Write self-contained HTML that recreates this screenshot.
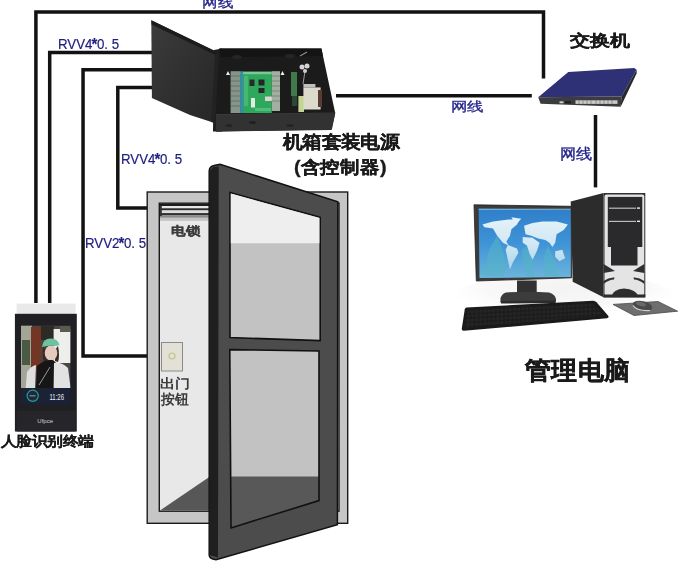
<!DOCTYPE html>
<html><head><meta charset="utf-8">
<style>
html,body{margin:0;padding:0;background:#fff;width:693px;height:569px;overflow:hidden;}
body{position:relative;font-family:"Liberation Sans",sans-serif;}
svg{position:absolute;left:0;top:0;}
.t{position:absolute;white-space:nowrap;line-height:1;}
.blue{color:#20207e;font-size:15px;-webkit-text-stroke:0.2px #25258a;}
.ast{font-weight:bold;font-size:17px;line-height:0;vertical-align:-1px;letter-spacing:-0.6px;margin-left:-1px;}
.rv{transform:scaleX(0.885);transform-origin:0 0;}
.bk{color:#1a1a1a;font-weight:bold;}
</style></head>
<body>
<svg width="693" height="569" viewBox="0 0 693 569">
  <!-- wires -->
  <g fill="none" stroke="#121212" stroke-width="3.5" stroke-linejoin="miter">
    <path d="M35.9 303 V11.95 H543.5 V78.4"/>
    <path d="M49.7 303 V52.6 H153"/>
    <path d="M147 356 H83.05 V69.75 H153"/>
    <path d="M147 208.1 H117.8 V87.5 H153"/>
    <path d="M336 95.8 H531.8"/>
    <path d="M595.5 115 V187.4"/>
  </g>

  <!-- BOX lid -->
  <defs>
    <linearGradient id="lidg" x1="0" y1="0" x2="1" y2="1">
      <stop offset="0" stop-color="#3c3c3c"/><stop offset="0.5" stop-color="#303030"/><stop offset="1" stop-color="#262626"/>
    </linearGradient>
  </defs>
  <polygon points="214,50 222,48.4 222,131.5 213,131.5" fill="#1e1e1e"/>
  <polygon points="151.3,20.2 219,53.1 214.6,123 190,115 151.9,98" fill="url(#lidg)"/>
  <polygon points="151.3,20.2 219,53.1 218.5,56.5 151.5,24.5" fill="#1c1c1c"/>
  <polygon points="215,54.5 219,53.1 214.6,123 211.5,122" fill="#222"/>
  <!-- box body -->
  <polygon points="219.4,48.4 321.4,48.4 335.2,113 331.8,129.6 216,131.5 216,115" fill="#1b1b1b"/>
  <polygon points="219.4,48.4 321.4,48.4 323,56 221,57" fill="#141414"/>
  <polygon points="216,114.5 335.2,113.5 331.5,130 216,131.5" fill="#323232"/>
  <line x1="216" y1="114.5" x2="335.2" y2="113" stroke="#3a3a3a" stroke-width="1"/>
  <ellipse cx="229" cy="125.5" rx="3.5" ry="1.3" fill="#222"/>
  <ellipse cx="252.5" cy="122.5" rx="3.5" ry="1.3" fill="#1e1e1e"/><ellipse cx="290" cy="125.5" rx="3.5" ry="1.3" fill="#222"/>
  <!-- PCB -->
  <filter id="bl3" x="-5%" y="-5%" width="110%" height="110%"><feGaussianBlur stdDeviation="0.35"/></filter>
  <g filter="url(#bl3)">
  <polygon points="228,71 226,75 230,75" fill="#eee"/>
  <polygon points="282.5,71 280.5,75 284.5,75" fill="#eee"/>
  <rect x="230.6" y="71.2" width="9.7" height="41.8" fill="#86958a"/>
  <g stroke="#56625a" stroke-width="0.7">
    <line x1="230.6" y1="76" x2="240" y2="76"/><line x1="230.6" y1="81" x2="240" y2="81"/><line x1="230.6" y1="86" x2="240" y2="86"/><line x1="230.6" y1="91" x2="240" y2="91"/><line x1="230.6" y1="96" x2="240" y2="96"/><line x1="230.6" y1="101" x2="240" y2="101"/><line x1="230.6" y1="106" x2="240" y2="106"/>
  </g>
  <rect x="240.3" y="71.7" width="31.5" height="41.3" fill="#2ea85a"/>
  <rect x="240.3" y="71.7" width="31.5" height="2.5" fill="#7cc89a"/>
  <rect x="240.3" y="71.7" width="2.8" height="41.3" fill="#3a8ab0"/>
  <rect x="244" y="76" width="4" height="30" fill="#44b873"/>
  <rect x="249.5" y="79.5" width="5" height="6.5" fill="#2a2a2a"/>
  <rect x="258.5" y="79.5" width="6" height="6" fill="#262626"/>
  <rect x="258.5" y="88" width="6" height="5" fill="#262626"/>
  <rect x="251" y="98" width="4" height="9.5" fill="#dfeee0"/>
  <rect x="265" y="96.5" width="8" height="4.5" fill="#e0d2d2"/>
  <rect x="255" y="108" width="16" height="3" fill="#4fbd7c"/>
  <rect x="271.8" y="71.2" width="8.2" height="39.8" fill="#a2b0a2"/>
  <g stroke="#6a786a" stroke-width="0.7">
    <line x1="271.8" y1="76" x2="280" y2="76"/><line x1="271.8" y1="81" x2="280" y2="81"/><line x1="271.8" y1="86" x2="280" y2="86"/><line x1="271.8" y1="91" x2="280" y2="91"/><line x1="271.8" y1="96" x2="280" y2="96"/><line x1="271.8" y1="101" x2="280" y2="101"/>
  </g>
  <rect x="291" y="72" width="6" height="24" fill="#3f7a4c"/>
  <rect x="292" y="96" width="5" height="10" fill="#2b4a35"/>
  <rect x="298.4" y="96" width="5.6" height="16" fill="#c4d494"/>
  <rect x="303.4" y="87.4" width="17.2" height="22.1" fill="#dcdacb"/>
  <rect x="303.4" y="84" width="12" height="3.4" fill="#c0c0c0"/>
  <rect x="318" y="90" width="4" height="17" fill="#5a3a30"/>
  <circle cx="302" cy="67" r="2.5" fill="#d4d4d4"/><circle cx="307" cy="66" r="2.5" fill="#d4d4d4"/><circle cx="305" cy="71" r="2" fill="#d4d4d4"/>
  <line x1="305" y1="71" x2="303" y2="84" stroke="#bbb" stroke-width="0.8"/>
  <path d="M300,56 L307,52" stroke="#888" stroke-width="1.2"/>
  </g>
  <ellipse cx="237" cy="57" rx="5" ry="2" fill="#252525"/>
  <ellipse cx="290" cy="56" rx="5" ry="2" fill="#252525"/>

  <!-- DOOR frame -->
  <rect x="147.2" y="192" width="200.5" height="331.3" fill="#c6c6c6" stroke="#1a1a1a" stroke-width="1.4"/>
  <rect x="159.3" y="203.2" width="179.7" height="308" fill="#e8e8e8" stroke="#1a1a1a" stroke-width="1.4"/>
  <polygon points="160,510.5 210,476.4 339,476.4 339,510.5" fill="#575757"/>
  <!-- lock bar -->
  <rect x="160" y="204" width="50" height="16" fill="#d8d8d8"/>
  <rect x="160" y="204" width="50" height="2" fill="#1e1e1e"/>
  <rect x="160" y="206" width="50" height="2.3" fill="#e6e6e6"/>
  <rect x="160" y="208.3" width="50" height="2.1" fill="#2a2a2a"/>
  <rect x="160" y="210.4" width="50" height="2.7" fill="#dcdcdc"/>
  <rect x="160" y="213.1" width="50" height="2.2" fill="#2e2e2e"/>
  <rect x="160" y="215.3" width="50" height="2.5" fill="#8a8a8a"/>
  <rect x="160" y="217.8" width="50" height="3" fill="#c4c4c4"/>
  <rect x="160" y="206" width="1.8" height="10" fill="#333"/>
  <!-- exit button -->
  <rect x="161.5" y="342.5" width="21" height="28.5" fill="#e3e1d6" stroke="#8a8a8a" stroke-width="1"/>
  <circle cx="172" cy="356" r="3" fill="none" stroke="#b9c98a" stroke-width="1.2"/>

  <!-- door leaf -->
  <path d="M209.2,171 Q209.5,166.3 214,165.6 L220,164.3 L337.8,201.8 L337.4,524.8 L216,559.7 Q209.2,559 209.2,555 Z" fill="#4c4c4c" stroke="#111" stroke-width="1.5"/>
  <polygon points="209.5,171 213,167 218.7,166.5 218,557.5 209.5,555" fill="#1f1f1f"/>
  <polygon points="230,192.6 320.2,217.3 320.2,340.6 230,337.6" fill="#c2c2c2" stroke="#111" stroke-width="1.6"/>
  <polygon points="230.8,193.5 319.4,218 319.4,243.3 230.8,243.3" fill="#eeeeee"/>
  <polygon points="229.8,349.6 319,351 319,500.6 231,527.9" fill="#c2c2c2"/>
  <polygon points="229.8,476.4 319,476.4 319,500.6 231,527.9" fill="#585858"/>
  <polygon points="229.8,349.6 319,351 319,500.6 231,527.9" fill="none" stroke="#111" stroke-width="1.6"/>

  <!-- SWITCH -->
  <polygon points="538.2,97.3 568.3,71.9 634.2,67.9 636.6,69.8 621.5,96.5" fill="#2e3176"/>
  <polygon points="538.2,97.3 621.5,96.5 620.7,106.8 540.6,103.7" fill="#3c3c3e"/>
  <polygon points="621.5,96.5 636.6,69.8 636.6,73.5 620.7,106.8" fill="#29292b"/>
  <rect x="575.5" y="100.3" width="42" height="3.6" fill="#c9c9c9"/>
  <g stroke="#555" stroke-width="0.5">
    <line x1="579" y1="100.3" x2="579" y2="104"/><line x1="583" y1="100.3" x2="583" y2="104"/><line x1="587" y1="100.3" x2="587" y2="104"/><line x1="591" y1="100.3" x2="591" y2="104"/><line x1="596" y1="100.3" x2="596" y2="104"/><line x1="600" y1="100.3" x2="600" y2="104"/><line x1="604" y1="100.3" x2="604" y2="104"/><line x1="608" y1="100.3" x2="608" y2="104"/><line x1="612" y1="100.3" x2="612" y2="104"/>
  </g>
  <rect x="559.5" y="101.3" width="4" height="2" fill="#ccc"/>
  <rect x="565" y="101" width="6" height="2.5" fill="#222"/>

  <!-- COMPUTER -->
  <defs>
    <linearGradient id="scr" x1="0" y1="0" x2="0" y2="1">
      <stop offset="0" stop-color="#2f7fca"/><stop offset="0.5" stop-color="#3f93d6"/><stop offset="1" stop-color="#6cb4dc"/>
    </linearGradient>
  </defs>
  <radialGradient id="desk" cx="0.5" cy="0.3" r="0.6">
      <stop offset="0" stop-color="#e2e2e2"/><stop offset="0.6" stop-color="#eeeeee"/><stop offset="1" stop-color="#ffffff" stop-opacity="0"/>
    </radialGradient>
  <ellipse cx="565" cy="298" rx="110" ry="26" fill="url(#desk)" opacity="0.4"/>
  <polygon points="474,204.8 571.6,206.3 571.6,277.8 476.3,281" fill="#3b3b3b" stroke="#222" stroke-width="0.8"/>
  <polygon points="478.7,208.7 570.8,209.5 570.8,277 479.5,278" fill="url(#scr)"/>
  <g fill="#55b5c6" opacity="0.55">
    <path d="M497,236 Q504,250 505,262 Q507,272 503,276 L488,276 Q484,262 490,248 Z"/>
    <path d="M526,246 Q536,262 534,276 L526,276 Q522,262 522,250 Z"/>
    <path d="M548,246 Q556,262 560,276 L544,276 Q542,262 546,250 Z"/>
    <ellipse cx="487" cy="271" rx="7" ry="5"/>
  </g>
  <filter id="bl2" x="-10%" y="-10%" width="120%" height="120%"><feGaussianBlur stdDeviation="0.6"/></filter>
  <linearGradient id="cont" x1="0" y1="217" x2="0" y2="270" gradientUnits="userSpaceOnUse">
      <stop offset="0" stop-color="#e4f2fa"/><stop offset="0.5" stop-color="#d2e8f4"/><stop offset="1" stop-color="#a9d4ea"/>
    </linearGradient>
  <g fill="url(#cont)" filter="url(#bl2)">
    <path d="M482.4,224.4 L493,221.6 L508.5,219.4 L519.8,219.4 L517,224.4 L511.4,229.3 L510,235.7 L506.4,241.4 L508.5,245.6 L502.9,242.8 L497.2,235.7 L493,228.6 L484.5,227.2 Z"/>
    <path d="M511.4,217.3 L521.3,218.7 L515.6,224.4 Z"/>
    <path d="M507.8,244.9 L517,248.4 L518.4,252.7 L512.8,262.6 L510,269.6 L507.8,259.7 L505.7,249.8 Z"/>
    <path d="M524.1,225.8 L532.6,223 L542.5,221.6 L556.6,221.6 L567.9,224.4 L563.7,230 L556.6,234.3 L555.2,242.8 L552.4,247 L549.5,242.8 L545.3,240 L538.2,238.5 L531.2,235.7 L525.5,234.3 Z"/>
    <path d="M522.7,237.1 L532.6,237.8 L539.6,242.8 L536.8,251.3 L532.6,259.7 L529.7,254.1 L526.9,245.6 L522.7,242.8 Z"/>
    <path d="M555.2,251.3 L562.3,249.8 L565.1,258.3 L559.5,261.2 L555.2,256.9 Z"/>
  </g>
  <rect x="478.7" y="208.7" width="92" height="1" fill="#9fd4ee" opacity="0.8"/>
  <rect x="517" y="280.5" width="19.7" height="16" fill="#323232"/>
  <path d="M506,292.5 Q528,291 549,292.5 Q555,294 556,299 L556,301.5 L500.5,302 L500.5,298 Q502,293.5 506,292.5 Z" fill="#3c3c3c"/>
  <polygon points="500.5,301 556,300.5 555.5,303 501,303.5" fill="#2c2c2c"/>
  <!-- tower -->
  <polygon points="570.7,201.6 603.5,193 603.5,297.3 572.7,281.8" fill="#2c2c2c"/>
  <polygon points="603.5,193 645.3,193 645.3,297.3 603.5,297.3" fill="#303030"/>
  <rect x="604.5" y="194.5" width="39.8" height="101" rx="2" fill="#e4e4e4"/>
  <rect x="607.8" y="196.9" width="34.5" height="50.1" fill="#2a2a2c"/>
  <rect x="609" y="207.6" width="27" height="1.2" fill="#bbb"/>
  <rect x="637" y="207.4" width="3" height="1.4" fill="#eee"/>
  <rect x="609" y="220.8" width="27" height="1.2" fill="#bbb"/>
  <rect x="637" y="220.6" width="3" height="1.4" fill="#eee"/>
  <rect x="611" y="247" width="26.5" height="18.5" fill="#2a2a2c"/>
  <path d="M603.5,264 L615,271 L603.5,273 Z" fill="#2e2e2e"/>
  <path d="M644.3,264 L633,271 L644.3,273 Z" fill="#2e2e2e"/>
  <path d="M603.5,281 Q609,277 614.5,277.5 L614,279.5 Q609,279.5 603.5,284 Z" fill="#2e2e2e"/>
  <path d="M644.3,281 Q639,277 633.5,277.5 L634,279.5 Q639,279.5 644.3,284 Z" fill="#2e2e2e"/>
  <path d="M611,297 Q613,289 624,288.5 Q636,289 639,297 Z" fill="#2e2e2e"/>
  <rect x="603.5" y="294.5" width="41.8" height="3" fill="#2c2c2c"/>

  <!-- keyboard -->
  <defs>
    <pattern id="keys" width="4.2" height="4.2" patternUnits="userSpaceOnUse" patternTransform="skewY(-3.2)">
      <rect width="4.2" height="4.2" fill="#1b1b1b"/>
      <rect x="0.6" y="0.6" width="3" height="3" rx="0.5" fill="#2a2a2a"/>
    </pattern>
  </defs>
  <path d="M466.5,307.6 L593,300.8 Q595,300.7 596.5,302.3 L608,315.5 Q609.5,317.8 607,318.2 L464,330.8 Q461.5,331 461.8,328.5 L464.8,309.3 Q465.2,307.7 466.5,307.6 Z" fill="#1a1a1a"/>
  <polygon points="467.5,310 592.5,303.2 604,315.5 464.8,327.8" fill="url(#keys)" opacity="0.7"/>

  <!-- mouse pad + mouse -->
  <polygon points="613,304.4 658,301.5 677.6,311.2 634,315.5" fill="#6e6e6e" stroke="#4a4a4a" stroke-width="0.8"/>
  <ellipse cx="642.5" cy="305.8" rx="10" ry="4.6" fill="#4a4a4a" transform="rotate(14 642.5 305.8)"/>
  <path d="M633,305.5 Q636,311 650,310.5" fill="none" stroke="#d0d0d0" stroke-width="1.2"/>
  <ellipse cx="641" cy="304" rx="5" ry="2" fill="#6a6a6a" transform="rotate(14 641 304)"/>

  <!-- TERMINAL -->
  <rect x="16.6" y="303.6" width="59" height="10.5" fill="#e9e9e9"/>
  <rect x="14.9" y="313.8" width="61.9" height="117.7" fill="#202024"/>
  <rect x="16.6" y="410.6" width="59" height="20.9" fill="#26262a"/>
  <rect x="21" y="325.4" width="49.6" height="79" fill="#1b2236"/>
  <clipPath id="ph"><rect x="21" y="325.4" width="49.6" height="62.6"/></clipPath>
  <filter id="bl" x="-10%" y="-10%" width="120%" height="120%"><feGaussianBlur stdDeviation="0.7"/></filter>
  <g clip-path="url(#ph)"><g filter="url(#bl)">
    <rect x="21" y="325.4" width="49.6" height="62.6" fill="#4a4540"/>
    <rect x="21" y="325.4" width="11" height="62.6" fill="#a3a696"/>
    <rect x="22" y="340" width="8" height="25" fill="#4a5a46"/>
    <rect x="31" y="327" width="10" height="44" fill="#733426"/>
    <rect x="41" y="326" width="13" height="14" fill="#2e2a28"/>
    <rect x="53.6" y="329" width="17" height="34" fill="#eeeeec"/>
    <rect x="60" y="326" width="10.6" height="6" fill="#5a5a50"/>
    <path d="M43,347 Q42,356 44,362 L47,361 L47,350 Z" fill="#3a2a22"/><path d="M58,346 Q60,356 58,362 L55,361 L55,350 Z" fill="#3a2a22"/><ellipse cx="51" cy="353" rx="6.3" ry="7.5" fill="#e4cabd"/>
    <path d="M42,347 Q43,338.5 51,338.6 Q58,339 59.5,345 L56,346 Q50,344.5 42,347 Z" fill="#6dc3a0"/>
    <path d="M36,388 L37,366 Q45,359 52,360 Q58,362 58,370 L57,388 Z" fill="#161616"/>
    <path d="M25.7,388 L27,372 Q31,366 36,365 L35,388 Z" fill="#dedede"/>
    <path d="M53.6,388 L54,363 Q62,362 68,368 L70.6,388 Z" fill="#e2e2e2"/>
    <line x1="39" y1="385" x2="50" y2="367" stroke="#cfcfcf" stroke-width="0.7"/>
  </g></g>
  <circle cx="32.7" cy="395.8" r="5.6" fill="#1e2a3a" stroke="#2a9d8c" stroke-width="1.2"/>
  <rect x="29.5" y="395" width="6" height="1.5" fill="#9ad" opacity="0.6"/>
  <text transform="translate(49.5,399.8) scale(0.72,1)" font-family="Liberation Sans" font-size="8.3" fill="#e8eef5">11:26</text>
  <text x="37.3" y="423" font-family="Liberation Sans" font-size="6" fill="#cfcfcf">Ufpce</text>
</svg>

<div class="t blue rv" style="left:58.3px;top:35.6px;">RVV4<span class="ast">*</span>0. 5</div>
<div class="t blue rv" style="left:120.8px;top:150.6px;">RVV4<span class="ast">*</span>0. 5</div>
<div class="t blue rv" style="left:85px;top:234.6px;">RVV2<span class="ast">*</span>0. 5</div>
<div class="t" style="transform-origin:0 0;left:569.80px;top:32.59px;transform:scale(0.992,0.791);font-size:20px;font-weight:bold;color:#1a1a1a;-webkit-text-stroke:0.35px #1a1a1a">交换机</div>
<div class="t" style="transform-origin:0 0;left:282.77px;top:132.80px;transform:scale(0.966,0.875);font-size:20px;font-weight:bold;color:#1a1a1a;-webkit-text-stroke:0.35px #1a1a1a">机箱套装电源</div>
<div class="t" style="transform-origin:0 0;left:293.51px;top:157.70px;transform:scale(0.991,0.871);font-size:20px;font-weight:bold;color:#1a1a1a;-webkit-text-stroke:0.35px #1a1a1a">(含控制器)</div>
<div class="t" style="transform-origin:0 0;left:525.00px;top:357.54px;transform:scale(0.975,0.941);font-size:27px;font-weight:bold;color:#1a1a1a;-webkit-text-stroke:0.5px #1a1a1a">管理电脑</div>
<div class="t" style="transform-origin:0 0;left:1.44px;top:435.25px;transform:scale(0.962,0.847);font-size:16px;font-weight:bold;color:#1a1a1a;-webkit-text-stroke:0.2px #1a1a1a">人脸识别终端</div>
<div class="t" style="transform-origin:0 0;left:170.6px;top:223.6px;transform:scale(0.986,0.813);font-size:15px;font-weight:bold;color:#3c3c3c;-webkit-text-stroke:0.3px #3c3c3c">电锁</div>
<div class="t" style="transform-origin:0 0;left:159.92px;top:377.00px;transform:scale(1.077,0.929);font-size:14px;font-weight:bold;color:#3a3a3a">出门</div>
<div class="t" style="transform-origin:0 0;left:161.00px;top:391.78px;transform:scale(1.000,1.015);font-size:14px;font-weight:bold;color:#3a3a3a">按钮</div>
<div class="t" style="transform-origin:0 0;left:201.96px;top:-4.94px;transform:scale(1.036,0.936);font-size:15px;color:#23238a;-webkit-text-stroke:0.35px #23238a">网线</div>
<div class="t" style="transform-origin:0 0;left:450.93px;top:99.66px;transform:scale(1.071,0.843);font-size:15px;color:#23238a;-webkit-text-stroke:0.35px #23238a">网线</div>
<div class="t" style="transform-origin:0 0;left:559.65px;top:145.73px;transform:scale(1.046,0.971);font-size:15px;color:#23238a;-webkit-text-stroke:0.35px #23238a">网线</div>
</body></html>
